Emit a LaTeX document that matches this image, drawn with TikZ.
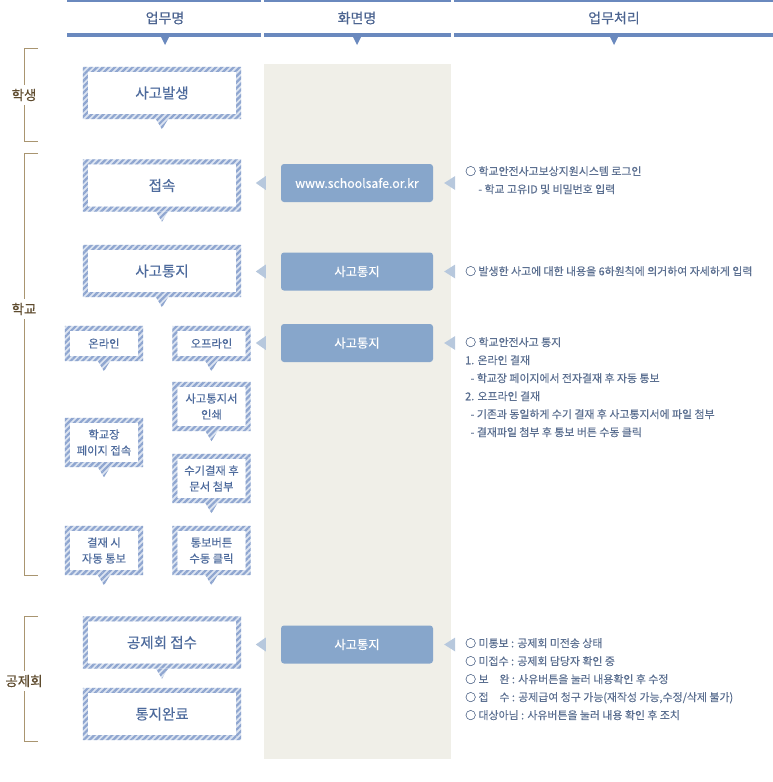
\documentclass[tikz,border=0pt]{standalone}
\usepackage{fontspec}
\setmainfont{Noto Sans CJK KR}[FakeBold = 0.3]
\usetikzlibrary{positioning}
\usetikzlibrary{patterns.meta}
\definecolor{headblue}{HTML}{6A89BE}
\definecolor{headtext}{HTML}{4C6490}
\definecolor{boxtext}{HTML}{4D6A9C}
\definecolor{hatchblue}{HTML}{8FA6D0}
\definecolor{hatchbase}{HTML}{DCE4F1}
\definecolor{screenblue}{HTML}{87A6CB}
\definecolor{tipblue}{HTML}{B7C8DD}
\definecolor{screencol}{HTML}{F0EFE8}
\definecolor{notetext}{HTML}{5B6F90}
\definecolor{brackettan}{HTML}{A99570}
\definecolor{groupbrown}{HTML}{5E4B2E}
\tikzset{
  task/.style = {minimum width = 158pt, minimum height = 52pt, inner sep = 0pt,
    text = boxtext, align = center, font = \fontsize{14.5}{17}\selectfont},
  subtask/.style = {task, minimum width = 78pt, minimum height = 49pt,
    font = \fontsize{11.3}{16}\selectfont},
  screen/.style = {fill = screenblue, rounded corners = 3pt, minimum width = 152pt,
    minimum height = 38pt, inner sep = 0pt, text = white, font = \fontsize{12.3}{14}\selectfont},
  hatchframe/.style = {fill = hatchbase, postaction = {pattern = {Lines[angle = 45,
    distance = 4.2pt, line width = 2.2pt]}, pattern color = hatchblue}},
  memo/.style = {anchor = north west, inner sep = 0pt, text = notetext, align = left,
    font = \fontsize{10.9}{18}\selectfont},
  colhead/.style = {text = headtext, font = \fontsize{14}{16}\selectfont},
  grouplabel/.style = {text = groupbrown, inner sep = 4pt, font = \fontsize{13.5}{15}\selectfont},
  bracket/.style = {draw = brackettan, line width = 1pt}
}

\begin{document}
\begin{tikzpicture}[x = 1pt, y = -1pt]
  \useasboundingbox (0,0) rectangle (773,782);
  % header
  \foreach \l/\r/\c/\txt [count = \n] in {67/261/165/업무명, 264/451/357/화면명, 454/773/614/업무처리} {
    \draw [headblue, line width = 2pt] (\l,1) -- (\r,1);
    \draw [headblue, line width = 4pt] (\l,35) -- (\r,35);
    \fill [headblue] (\c-4,37) -- (\c+4,37) -- (\c,45) -- cycle;
    \node [colhead] (head\n) at (\c,18) {\txt};
  }
  \fill [screencol] (264,64) rectangle (451,759);

  % tasks
  \node [task] (occur) at (162,93) {사고발생};
  \node [task] (access) at (162,185.5) {접속};
  \node [task] (notify) at (162,271) {사고통지};
  \node [subtask, minimum height = 35pt] (online) at (104,343.5) {온라인};
  \node [subtask, minimum height = 35pt] (offline) at (211.5,343.5) {오프라인};
  \node [subtask] (print) at (211.5,406.5) {사고통지서\\인쇄};
  \node [subtask] (portal) at (104,442.5) {학교장\\페이지 접속};
  \node [subtask] (attach) at (211.5,478.5) {수기결재 후\\문서 첨부};
  \node [subtask] (autosend) at (104,550.5) {결재 시\\자동 통보};
  \node [subtask] (manual) at (211.5,550.5) {통보버튼\\수동 클릭};
  \node [task] (receive) at (162,642.5) {공제회 접수};
  \node [task] (done) at (162,714) {통지완료};
  \foreach \b in {occur, access, notify, online, offline, print, portal, attach, autosend, manual, receive, done} {
    \fill [even odd rule, hatchframe] (\b.north west) rectangle (\b.south east)
      ([shift = {(5pt,-5pt)}]\b.north west) rectangle ([shift = {(-5pt,5pt)}]\b.south east);
  }
  \foreach \b in {occur, access, notify, online, offline, print, portal, attach, autosend, manual, receive} {
    \fill [hatchframe] ([xshift = -6pt]\b.south) -- ([xshift = 6pt]\b.south) -- ([yshift = -10pt]\b.south) -- cycle;
  }

  % screens
  \node [screen] (site) at (357,183) {www.schoolsafe.or.kr};
  \node [screen] (scrnotify) at (357,271.5) {사고통지};
  \node [screen] (scroffline) at (357,343) {사고통지};
  \node [screen] (scrreceive) at (357,644.5) {사고통지};
  \foreach \s in {site, scrnotify, scroffline, scrreceive} {
    \fill [tipblue] ([xshift = -25pt]\s.west) -- ([xshift = -15pt, yshift = 7pt]\s.west)
      -- ([xshift = -15pt, yshift = -7pt]\s.west) -- cycle;
    \fill [tipblue] ([xshift = 11pt]\s.east) -- ([xshift = 22pt, yshift = 7pt]\s.east)
      -- ([xshift = 22pt, yshift = -7pt]\s.east) -- cycle;
  }

  % processing notes
  \node [memo] (login) at (465,166) {○ 학교안전사고보상지원시스템 로그인\\\hspace*{1.2em}- 학교 고유ID 및 비밀번호 입력};
  \node [memo] (detail) at (465,266) {○ 발생한 사고에 대한 내용을 6하원칙에 의거하여 자세하게 입력};
  \node [memo] (route) at (465,337) {○ 학교안전사고 통지\\1. 온라인 결재\\\hspace*{0.5em}- 학교장 페이지에서 전자결재 후 자동 통보\\2. 오프라인 결재\\\hspace*{0.5em}- 기존과 동일하게 수기 결재 후 사고통지서에 파일 첨부\\\hspace*{0.5em}- 결재파일 첨부 후 통보 버튼 수동 클릭};
  \node [memo] (status) at (465,638) {○ 미통보 : 공제회 미전송 상태\\○ 미접수 : 공제회 담당자 확인 중\\○ 보\hspace{1em}완 : 사유버튼을 눌러 내용확인 후 수정\\○ 접\hspace{1em}수 : 공제급여 청구 가능(재작성 가능,수정/삭제 불가)\\○ 대상아님 : 사유버튼을 눌러 내용 확인 후 조치};

  % groups
  \foreach \g/\txt/\ya/\ym/\yb in {student/학생/48/95/141, school/학교/153/309/575, fund/공제회/616/681/741} {
    \node [grouplabel] (\g) at (24,\ym) {\txt};
    \coordinate (\g top) at (38,\ya);
    \coordinate (\g bot) at (38,\yb);
    \draw [bracket] (\g top) -- (24,\ya) -- (\g.north);
    \draw [bracket] (\g.south) -- (24,\yb) -- (\g bot);
  }
\end{tikzpicture}
\end{document}
